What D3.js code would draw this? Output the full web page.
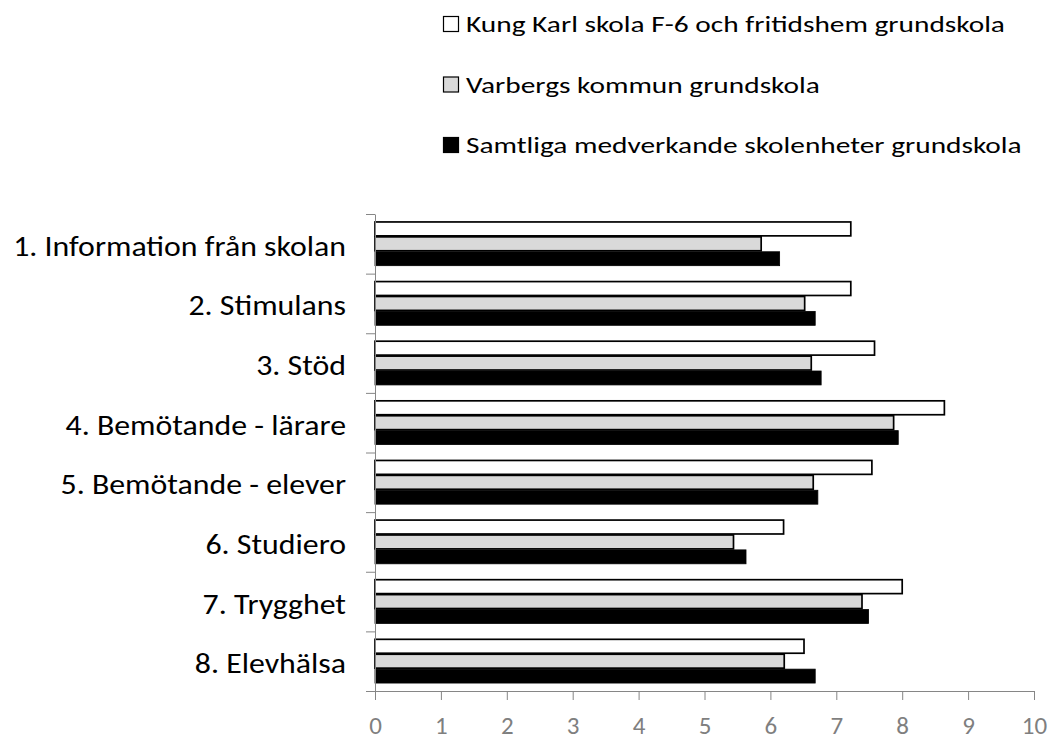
<!DOCTYPE html>
<html>
<head>
<meta charset="utf-8">
<script src="https://cdn.jsdelivr.net/npm/d3@7"></script>
<style>
  body { margin: 0; background: #fff; }
  svg { display: block; }
  text { font-family: Carlito, Calibri, Lato, sans-serif; }
</style>
</head>
<body>
<svg id="chart"></svg>
<script>
// categories top to bottom
var categories = [
    "1. Information från skolan",
    "2. Stimulans",
    "3. Stöd",
    "4. Bemötande - lärare",
    "5. Bemötande - elever",
    "6. Studiero",
    "7. Trygghet",
    "8. Elevhälsa"
];

var seriesNames = [
    "Kung Karl skola F-6 och fritidshem grundskola",
    "Varbergs kommun grundskola",
    "Samtliga medverkande skolenheter grundskola"
];

var kungKarl = [7.22, 7.22, 7.58, 8.64, 7.54, 6.20, 8.00, 6.51];
var varberg = [5.86, 6.52, 6.62, 7.87, 6.65, 5.44, 7.39, 6.21];
var samtliga = [6.14, 6.68, 6.77, 7.94, 6.72, 5.63, 7.49, 6.68];

var xTicks = [0, 1, 2, 3, 4, 5, 6, 7, 8, 9, 10];

var fills = ["#ffffff", "#d9d9d9", "#000000"];

var totalWidth = 1063;
var totalHeight = 741;

var svg = d3.select("#chart")
    .attr("width", totalWidth)
    .attr("height", totalHeight);

var x = d3.scaleLinear().domain([0, 10]).range([375, 1034]);
var y0 = d3.scaleBand().domain(categories).range([214, 691])
    .paddingInner(0.25).paddingOuter(0.125);
var y1 = d3.scaleBand().domain(d3.range(seriesNames.length)).range([0, y0.bandwidth()]);

var allSeries = [kungKarl, varberg, samtliga];

// squeeze texts sideways (Calibri is narrow) so the first one gets the target width
function squeeze(sel, target) {
    var w0 = sel.node().getComputedTextLength();
    var k = target / w0;
    sel.each(function () {
        var t = d3.select(this);
        var tx = +t.attr("x"), ty = +t.attr("y");
        t.attr("x", 0).attr("y", 0)
            .attr("transform", "translate(" + tx + "," + ty + ") scale(" + k.toFixed(4) + ",1)");
    });
}

// bars
var groups = svg.selectAll(".cat")
    .data(categories)
    .enter()
    .append("g")
    .attr("class", "cat")
    .attr("transform", function (d) { return "translate(0," + y0(d) + ")"; });

groups.selectAll("rect")
    .data(function (d, i) {
        return allSeries.map(function (s, j) { return { s: j, v: s[i] }; });
    })
    .enter()
    .append("rect")
    .attr("x", x(0))
    .attr("y", function (d) { return y1(d.s) + 0.5; })
    .attr("width", function (d) { return x(d.v) - x(0); })
    .attr("height", y1.bandwidth() - 1)
    .attr("fill", function (d) { return fills[d.s]; })
    .attr("stroke", "#000")
    .attr("stroke-width", function (d) { return d.s == 2 ? 0.8 : 1.7; });

// x axis
var xAxis = svg.append("g")
    .attr("transform", "translate(0,691)")
    .call(d3.axisBottom(x).tickValues(xTicks).tickSize(9).tickSizeOuter(0));
xAxis.select(".domain").attr("stroke", "#868686");
xAxis.selectAll(".tick line").attr("stroke", "#868686");
xAxis.selectAll(".tick text")
    .attr("y", 43)
    .attr("dy", 0)
    .attr("fill", "#7f7f7f")
    .style("font-family", "Carlito, Calibri, Lato, sans-serif")
    .style("font-weight", 300)
    .style("font-size", "25px");

// y axis, ticks on category boundaries
var yIdx = d3.scaleLinear().domain([0, categories.length]).range([214, 691]);
var yAxis = svg.append("g")
    .attr("transform", "translate(375,0)")
    .call(d3.axisLeft(yIdx).ticks(categories.length).tickFormat("").tickSize(9).tickSizeOuter(0));
yAxis.select(".domain").attr("stroke", "#868686");
yAxis.selectAll(".tick line").attr("stroke", "#868686");

// category labels
var catLabels = svg.selectAll(".catLabel")
    .data(categories)
    .enter()
    .append("text")
    .attr("class", "catLabel")
    .attr("x", 346)
    .attr("y", function (d) { return y0(d) + y0.bandwidth() / 2 + 12; })
    .attr("text-anchor", "end")
    .attr("fill", "#000")
    .style("font-size", "28px")
    .text(function (d) { return d; });
squeeze(catLabels, 333);

// legend
var legendY = d3.scalePoint().domain(seriesNames).range([32, 153]);
var legend = svg.selectAll(".legend")
    .data(seriesNames)
    .enter()
    .append("g")
    .attr("class", "legend")
    .attr("transform", function (d) { return "translate(443," + legendY(d) + ")"; });

legend.append("rect")
    .attr("x", 0.5)
    .attr("y", -15.5)
    .attr("width", 15)
    .attr("height", 15)
    .attr("fill", function (d, i) { return fills[i]; })
    .attr("stroke", "#000")
    .attr("stroke-width", 1.2);

var legText = legend.append("text")
    .attr("x", 23)
    .attr("y", 0)
    .attr("fill", "#000")
    .style("font-size", "22px")
    .text(function (d) { return d; });
squeeze(legText, 539);
</script>
</body>
</html>
